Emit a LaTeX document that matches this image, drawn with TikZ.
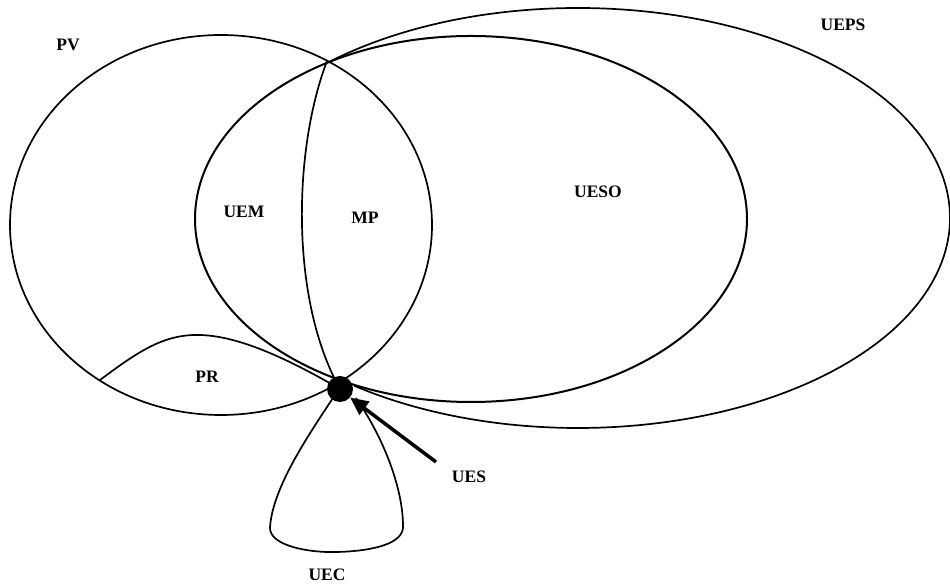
\documentclass[tikz,border=0pt]{standalone}
\usepackage{fontspec}
\setmainfont{Liberation Serif}
\usetikzlibrary{arrows.meta}
\tikzset{
  curve/.style={line width=1.7pt, black},
  lbl/.style={font=\bfseries\fontsize{17.5}{20}\selectfont, inner sep=0pt},
}
\begin{document}
\begin{tikzpicture}[x=1pt,y=1pt]
\useasboundingbox (0,0) rectangle (950,588);
% PV ellipse
\draw[curve] (221,363) ellipse [x radius=211pt, y radius=190pt];
% UESO ellipse
\draw[curve, line width=2pt] (471,369) ellipse [x radius=276pt, y radius=183pt];
% UEPS arc
\draw[curve] (578,370) ++(132:372pt and 210pt) arc [start angle=132, end angle=-127, x radius=372pt, y radius=210pt];
% MP divider
\coordinate (top) at (327,527);
\node[circle, fill=black, minimum size=26pt, inner sep=0pt] (dot) at (340,199) {};
\draw[curve] (top) .. controls (293,438) and (290,288) .. (dot.center);
% PR curve
\coordinate (prl) at (100,208);
\draw[curve] (prl) .. controls (140,238) and (165,254) .. (200,253) .. controls (240,252) and (290,228) .. (dot.center);
% UEC loop
\draw[curve] (333,190) .. controls (305,148) and (272,98) .. (270,60)
  .. controls (270,42) and (310,35) .. (337,36)
  .. controls (375,37) and (404,45) .. (403,62)
  .. controls (403,98) and (385,148) .. (356,190);
% arrow
\coordinate (tail) at (436,126);
\draw[line width=3.5pt, -{Triangle[length=18pt,width=16pt]}] (tail) -- (dot.-40);
% labels
\node[lbl] (pv) at (68,543) {PV};
\node[lbl] (ueps) at (843,563) {UEPS};
\node[lbl] (uem) at (244,376) {UEM};
\node[lbl] (mp) at (365,370) {MP};
\node[lbl] (ueso) at (598,396) {UESO};
\node[lbl] (pr) at (207,211) {PR};
\node[lbl] (ues) at (469,111) {UES};
\node[lbl] (uec) at (327,13) {UEC};
\end{tikzpicture}
\end{document}
